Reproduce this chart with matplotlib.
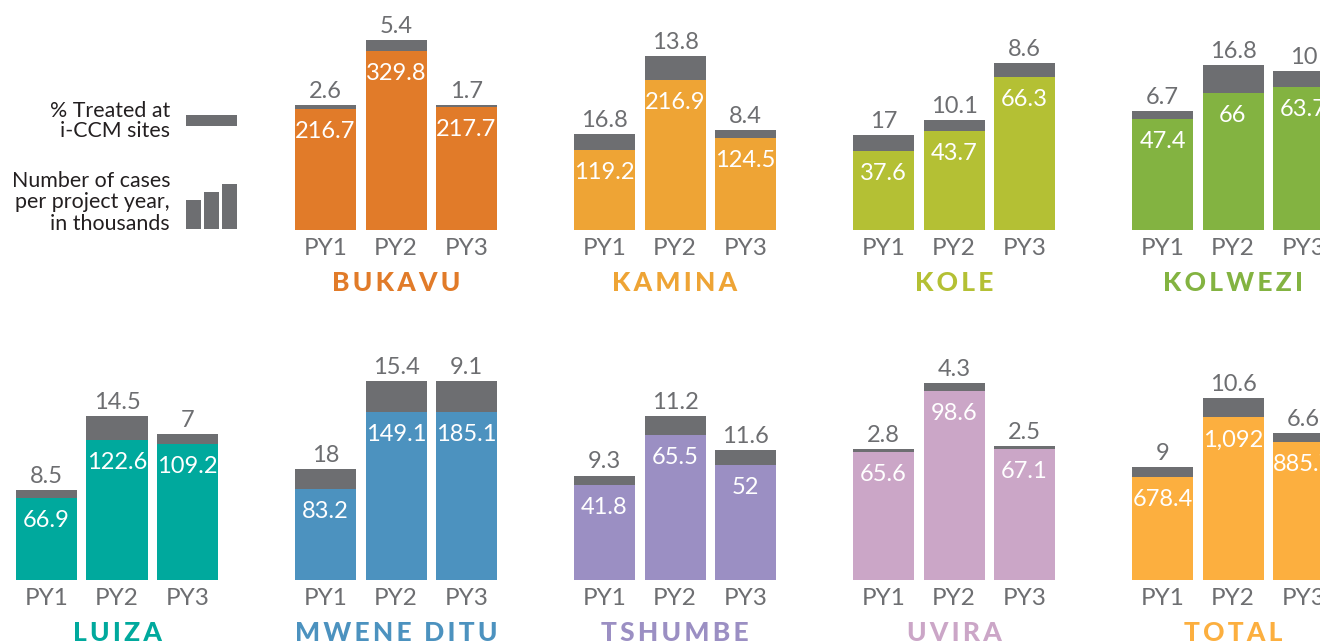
import matplotlib
matplotlib.use("Agg")
import matplotlib.pyplot as plt
from matplotlib.patches import Rectangle

plt.rcParams['font.family'] = ['Lato', 'DejaVu Sans']

W, H = 1320, 642
GRAY = '#6D6E71'

years = ['PY1', 'PY2', 'PY3']
names = ['BUKAVU', 'KAMINA', 'KOLE', 'KOLWEZI', 'LUIZA', 'MWENE DITU', 'TSHUMBE', 'UVIRA', 'TOTAL']
colors = ['#E17B29', '#EEA435', '#B4C034', '#83B341', '#00A99D', '#4C92BF', '#9B8FC3', '#CBA6C7', '#FCAF3F']

cases = [
    [216.7, 329.8, 217.7],
    [119.2, 216.9, 124.5],
    [37.6, 43.7, 66.3],
    [47.4, 66, 63.7],
    [66.9, 122.6, 109.2],
    [83.2, 149.1, 185.1],
    [41.8, 65.5, 52],
    [65.6, 98.6, 67.1],
    [678.4, 1092, 885.7],
]
treated = [
    [2.6, 5.4, 1.7],
    [16.8, 13.8, 8.4],
    [17, 10.1, 8.6],
    [6.7, 16.8, 10],
    [8.5, 14.5, 7],
    [18, 15.4, 9.1],
    [9.3, 11.2, 11.6],
    [2.8, 4.3, 2.5],
    [9, 10.6, 6.6],
]
# The heights as drawn in the source: its MWENE DITU PY3 bar does not follow its label.
drawn_cases = [list(c) for c in cases]
drawn_cases[5][2] = 149.1
drawn_treated = [list(t) for t in treated]
drawn_treated[5][2] = 15.4

# vertical scale of each panel, pixels per thousand cases
px_per_case = [0.575, 0.803, 2.52, 2.5, 1.34, 1.335, 2.5, 2.0, 0.1665]
# left edge of each panel and its baseline, pixels
panel_left = [295, 574, 853, 1132, 16, 295, 574, 853, 1132]
panel_base = [230, 230, 230, 230, 580, 580, 580, 580, 580]

legend_bar_heights = [29, 37, 45]

BAR_W, STEP = 61, 70.5
fig = plt.figure(figsize=(W / 100, H / 100), dpi=100, facecolor='white')
PT = 72 / 100


def px_axes(left, top, width, height):
    return fig.add_axes([left / W, 1 - (top + height) / H, width / W, height / H])


for i, name in enumerate(names):
    width = 2 * STEP + BAR_W
    base = panel_base[i]
    ax = px_axes(panel_left[i], 0, width, base)
    w = BAR_W / STEP
    ax.set_xlim(-w / 2, 2 + w / 2)
    ax.set_ylim(0, base / px_per_case[i])
    ax.patch.set_visible(False)
    for s in ax.spines.values():
        s.set_visible(False)
    ax.yaxis.set_visible(False)
    xs = range(3)
    totals = drawn_cases[i]
    gray_part = [c * p / 100 for c, p in zip(totals, drawn_treated[i])]
    color_part = [c - g for c, g in zip(totals, gray_part)]
    ax.bar(xs, color_part, width=w, color=colors[i])
    ax.bar(xs, gray_part, width=w, bottom=color_part, color=GRAY)
    ax.set_xticks(list(xs), years)
    ax.tick_params(axis='x', length=0, pad=5.5, labelsize=17.5, labelcolor=GRAY)
    for x in xs:
        ax.annotate(f"{treated[i][x]:g}", (x, totals[x]), xytext=(0, 7 * PT),
                    textcoords='offset points', ha='center', va='baseline',
                    fontsize=17, color=GRAY, annotation_clip=False)
        ax.annotate(f"{cases[i][x]:,g}", (x, color_part[x]), xytext=(0, -29 * PT),
                    textcoords='offset points', ha='center', va='baseline',
                    fontsize=17, color='white', annotation_clip=False)
    ax.annotate('\u2009'.join(name).replace('\u2009 \u2009', '  '), (1, 0), xytext=(0, -61 * PT),
                textcoords='offset points', ha='center', va='baseline',
                fontsize=19, fontweight='black', color=colors[i], annotation_clip=False)

# legend
LEG = '#231F20'
fig.text(170 / W, 1 - 137 / H, '% Treated at\ni-CCM sites', ha='right', va='baseline',
         fontsize=15.4, color=LEG, linespacing=1.0)
fig.text(170 / W, 1 - 230 / H, 'Number of cases\nper project year,\nin thousands', ha='right', va='baseline',
         fontsize=15.4, color=LEG, linespacing=1.1)
fig.add_artist(Rectangle((186 / W, 1 - 126 / H), 51 / W, 11 / H, transform=fig.transFigure,
                         facecolor=GRAY, edgecolor='none'))
lax = px_axes(186, 184, 51, 45)
lw = 15 / 18
lax.set_xlim(-lw / 2, 2 + lw / 2)
lax.set_ylim(0, 45)
lax.axis('off')
lax.bar(range(3), legend_bar_heights, width=lw, color=GRAY)

fig.savefig('out.png', dpi=100, facecolor='white')
